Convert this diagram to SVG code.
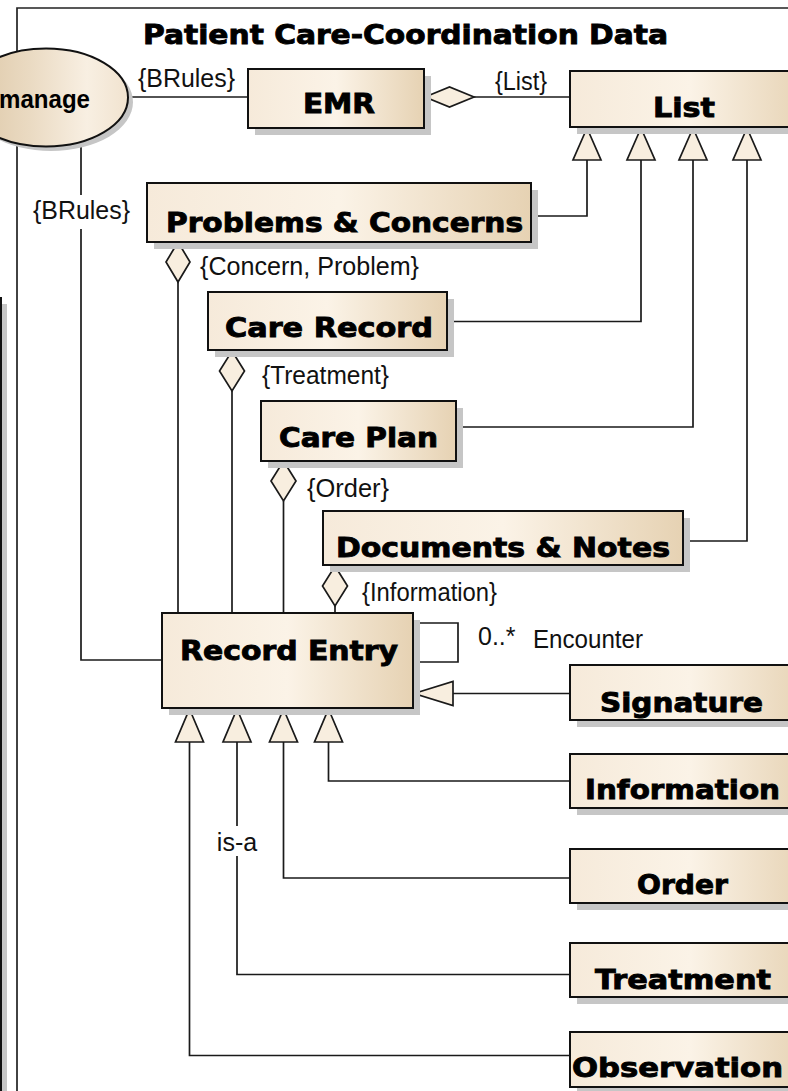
<svg xmlns="http://www.w3.org/2000/svg" width="788" height="1091" viewBox="0 0 788 1091">
<defs>
<linearGradient id="g" x1="0" y1="0" x2="1" y2="0">
<stop offset="0" stop-color="#f6eadA"/>
<stop offset="0.5" stop-color="#fbf3e7"/>
<stop offset="1" stop-color="#e6d2b3"/>
</linearGradient>
<linearGradient id="ge" x1="0" y1="0" x2="1" y2="0">
<stop offset="0" stop-color="#dcc6a4"/>
<stop offset="0.4" stop-color="#eadac2"/>
<stop offset="0.75" stop-color="#f8efe2"/>
<stop offset="1" stop-color="#f1e3cf"/>
</linearGradient>
<style>
.box{fill:url(#g);stroke:#111;stroke-width:2}
.sh{fill:#c6c6c6}
.nt{font-family:"DejaVu Sans","Liberation Sans",sans-serif;font-weight:bold;font-size:27px;fill:#000;stroke:#000;stroke-width:0.9}
.lb{font-family:"Liberation Sans",Arial,sans-serif;font-size:25px;fill:#111}
.ln{fill:none;stroke:#1a1a1a;stroke-width:1.7}
.hd{fill:#f8eedf;stroke:#1a1a1a;stroke-width:1.7}
</style>
</defs>
<rect x="0" y="0" width="788" height="1091" fill="#fff"/>
<path d="M17,1100 V8 H800" fill="none" stroke="#222" stroke-width="1.7"/>
<text x="143" y="44" class="nt" font-size="23" textLength="525" lengthAdjust="spacingAndGlyphs">Patient Care-Coordination Data</text>

<g id="connectors">
<line class="ln" x1="120" y1="97" x2="248" y2="97"/>
<text class="lb" x="138" y="87" textLength="97" lengthAdjust="spacingAndGlyphs">{BRules}</text>
<line class="ln" x1="474" y1="97" x2="570" y2="97"/>
<polygon class="hd" points="425,97 449.5,87 474,97 449.5,107"/>
<text class="lb" x="495" y="90" textLength="52" lengthAdjust="spacingAndGlyphs">{List}</text>
<polyline class="ln" points="81,140 81,660 162,660"/>
<rect x="30" y="195" width="104" height="34" fill="#fff"/>
<text class="lb" x="33" y="219" textLength="97" lengthAdjust="spacingAndGlyphs">{BRules}</text>
<polyline class="ln" points="531,216 587,216 587,160"/>
<polygon class="hd" points="587,128 601,160 573,160"/>
<polyline class="ln" points="447,321.5 641,321.5 641,160"/>
<polygon class="hd" points="641,128 655,160 627,160"/>
<polyline class="ln" points="456,427 693,427 693,160"/>
<polygon class="hd" points="693,128 707,160 679,160"/>
<polyline class="ln" points="683,541 747,541 747,160"/>
<polygon class="hd" points="747,128 761,160 733,160"/>
<line class="ln" x1="178" y1="282" x2="178" y2="613"/>
<polygon class="hd" points="178,242 190,262 178,282 166,262"/>
<text class="lb" x="200" y="275" textLength="219" lengthAdjust="spacingAndGlyphs">{Concern, Problem}</text>
<line class="ln" x1="232" y1="391" x2="232" y2="613"/>
<polygon class="hd" points="232,351 244.5,371 232,391 219.5,371"/>
<text class="lb" x="262" y="384" textLength="127" lengthAdjust="spacingAndGlyphs">{Treatment}</text>
<line class="ln" x1="283.5" y1="501" x2="283.5" y2="613"/>
<polygon class="hd" points="283.5,461 296,481 283.5,501 271,481"/>
<text class="lb" x="307" y="497" textLength="82" lengthAdjust="spacingAndGlyphs">{Order}</text>
<line class="ln" x1="335" y1="606" x2="335" y2="613"/>
<polygon class="hd" points="335,566 347.5,586 335,606 322.5,586"/>
<text class="lb" x="362" y="601" textLength="135" lengthAdjust="spacingAndGlyphs">{Information}</text>
<polyline class="ln" points="413,623 458,623 458,662 413,662"/>
<text class="lb" x="478" y="645">0..*</text>
<text class="lb" x="533" y="648" textLength="110" lengthAdjust="spacingAndGlyphs">Encounter</text>
<line class="ln" x1="570" y1="693.5" x2="453" y2="693.5"/>
<polygon class="hd" points="414,693.5 453,681.5 453,705.5"/>
<polyline class="ln" points="328.5,742 328.5,781 570,781"/>
<polygon class="hd" points="328.5,709 342.5,742 314.5,742"/>
<polyline class="ln" points="283.5,742 283.5,878 570,878"/>
<polygon class="hd" points="283.5,709 297.5,742 269.5,742"/>
<polyline class="ln" points="237,742 237,974.5 570,974.5"/>
<polygon class="hd" points="237,709 251,742 223,742"/>
<rect x="215" y="826" width="44" height="30" fill="#fff"/>
<text class="lb" x="237" y="851" text-anchor="middle">is-a</text>
<polyline class="ln" points="189.5,742 189.5,1055.5 570,1055.5"/>
<polygon class="hd" points="189.5,709 203.5,742 175.5,742"/>
</g>

<g id="left-node">
<rect class="sh" x="-94" y="304" width="101" height="900"/>
<rect class="box" x="-100" y="298" width="101" height="900"/>
</g>

<g id="manage">
<ellipse class="sh" cx="51" cy="102" rx="82" ry="49"/>
<ellipse cx="46" cy="97.5" rx="82" ry="49" fill="url(#ge)" stroke="#111" stroke-width="2"/>
<text x="-1" y="108" font-family="Liberation Sans,Arial,sans-serif" font-weight="bold" font-size="26" textLength="91" lengthAdjust="spacingAndGlyphs">manage</text>
</g>

<g id="emr">
<rect class="sh" x="255" y="76" width="176" height="59"/>
<rect class="box" x="248" y="69" width="176" height="59"/>
<text class="nt" x="303" y="113" font-size="23" textLength="72" lengthAdjust="spacingAndGlyphs">EMR</text>
</g>

<g id="list">
<rect class="sh" x="577" y="78" width="240" height="56"/>
<rect class="box" x="570" y="71" width="240" height="56"/>
<text class="nt" x="653" y="117" font-size="24" textLength="62" lengthAdjust="spacingAndGlyphs">List</text>
</g>

<g id="problems">
<rect class="sh" x="154" y="190" width="384" height="59"/>
<rect class="box" x="147" y="183" width="384" height="59"/>
<text class="nt" x="166" y="232" textLength="357" lengthAdjust="spacingAndGlyphs">Problems &amp; Concerns</text>
</g>

<g id="care-record">
<rect class="sh" x="215" y="299" width="239" height="58"/>
<rect class="box" x="208" y="292" width="239" height="58"/>
<text class="nt" x="225" y="337" textLength="208" lengthAdjust="spacingAndGlyphs">Care Record</text>
</g>

<g id="care-plan">
<rect class="sh" x="268" y="408" width="195" height="60"/>
<rect class="box" x="261" y="401" width="195" height="60"/>
<text class="nt" x="279" y="447" textLength="159" lengthAdjust="spacingAndGlyphs">Care Plan</text>
</g>

<g id="documents">
<rect class="sh" x="330" y="518" width="360" height="54"/>
<rect class="box" x="323" y="511" width="360" height="54"/>
<text class="nt" x="336" y="557" textLength="334" lengthAdjust="spacingAndGlyphs">Documents &amp; Notes</text>
</g>

<g id="record-entry">
<rect class="sh" x="169" y="620" width="251" height="95"/>
<rect class="box" x="162" y="613" width="251" height="95"/>
<text class="nt" x="180" y="660" textLength="218" lengthAdjust="spacingAndGlyphs">Record Entry</text>
</g>

<g id="signature">
<rect class="sh" x="577" y="672" width="240" height="55"/>
<rect class="box" x="570" y="665" width="240" height="55"/>
<text class="nt" x="600" y="712" textLength="163" lengthAdjust="spacingAndGlyphs">Signature</text>
</g>

<g id="information">
<rect class="sh" x="577" y="761" width="240" height="54"/>
<rect class="box" x="570" y="754" width="240" height="54"/>
<text class="nt" x="585" y="799" textLength="195" lengthAdjust="spacingAndGlyphs">Information</text>
</g>

<g id="order">
<rect class="sh" x="577" y="856" width="240" height="54"/>
<rect class="box" x="570" y="849" width="240" height="54"/>
<text class="nt" x="637" y="894" textLength="91" lengthAdjust="spacingAndGlyphs">Order</text>
</g>

<g id="treatment">
<rect class="sh" x="577" y="950" width="240" height="54"/>
<rect class="box" x="570" y="943" width="240" height="54"/>
<text class="nt" x="595" y="989" textLength="176" lengthAdjust="spacingAndGlyphs">Treatment</text>
</g>

<g id="observation">
<rect class="sh" x="577" y="1039" width="240" height="55"/>
<rect class="box" x="570" y="1032" width="240" height="55"/>
<text class="nt" x="572" y="1077" textLength="211" lengthAdjust="spacingAndGlyphs">Observation</text>
</g>
</svg>
